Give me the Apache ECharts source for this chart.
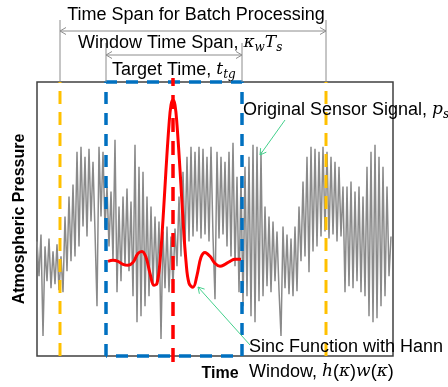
<!DOCTYPE html>
<html>
<head>
<meta charset="utf-8">
<script src="https://cdn.jsdelivr.net/npm/echarts@6/dist/echarts.min.js"></script>
<style>
  html, body { margin: 0; padding: 0; background: #fff; }
  #chart { width: 448px; height: 387px; }
</style>
</head>
<body>
<div id="chart"></div>
<script>
  // sensor signal, one sample every signalStep time units
  var signalStep = 2
  var signal = [
    115, 80, 122, 20, 110, 75, 118, 68, 105, 72, 112, 66, 100,
    64, 140, 85, 160, 95, 172, 100,
    205, 110, 210, 130, 200, 120, 208, 135, 195, 125, 50, 210, 140, 205, 128,
    170, 110, 165, 95, 217, 64, 150, 75, 160, 90, 168, 85, 155,
    60, 212, 34, 190, 40, 185, 50, 160, 60, 150, 70, 140, 72, 135, 17,
    125, 68, 130, 64, 120, 70, 128,
    90, 160, 100, 185, 110, 200, 115, 210, 120, 205, 125, 210, 118, 208, 122, 200, 115, 210,
    120, 57, 205, 118, 200, 122, 195, 110, 205, 100, 214, 90, 180, 64,
    180, 50, 190, 60, 200, 40, 212, 34, 210, 55, 205,
    60, 150, 70, 140, 64, 135, 75, 125, 66, 20, 130, 68, 122, 62, 118,
    60, 130, 65, 150,
    95, 175, 100, 200, 84, 210, 105, 208, 110, 205,
    120, 210, 125, 205, 118, 200, 122, 195, 115, 190, 120, 170, 64,
    170, 70, 175, 68, 165, 75, 170, 64, 160,
    60, 190, 40, 205, 34, 212, 38, 200, 50, 190, 60, 170, 80, 120
  ]

  // windowed sinc h(k)w(k)
  var sincTime = [71, 76, 81, 86, 91, 96, 101, 105, 109, 113, 117, 120, 123, 126, 129, 132, 134, 136,
    138, 140, 143, 146, 149, 152, 156, 160, 164, 168, 173, 178, 183, 188, 193, 198, 204]
  var sincValue = [95, 96, 95, 92, 91, 94, 103, 105, 99, 83, 71, 73, 95, 137, 187, 232, 252, 257,
    252, 232, 187, 137, 95, 73, 69, 81, 99, 104, 100, 93, 90, 92, 95, 97, 97]

  var batchSpan = [23, 289]
  var windowSpan = [69, 205]
  var targetTime = 136
  var timeMax = 356
  var pressureMax = 275

  var myChart = echarts.init(document.getElementById('chart'))
  var font = 'Liberation Sans'

  var signalData = signal.map(function (v, i) { return [i * signalStep, v] })
  var sincData = sincTime.map(function (t, i) { return [t, sincValue[i]] })

  function vline(t, lo, hi) { return [[t, lo], [t, hi]] }

  myChart.setOption({
    animation: false,
    grid: {
      left: 37, top: 82, width: 356, height: 275,
      show: true, borderColor: '#404040', borderWidth: 1.5
    },
    xAxis: {
      type: 'value', min: 0, max: timeMax,
      name: 'Time', nameLocation: 'middle', nameGap: 10,
      nameTextStyle: { fontFamily: font, fontSize: 16, fontWeight: 'bold', color: '#000', padding: [0, 0, 0, 10] },
      axisLine: { show: false }, axisTick: { show: false }, axisLabel: { show: false }, splitLine: { show: false }
    },
    yAxis: {
      type: 'value', min: 0, max: pressureMax,
      name: 'Atmospheric Pressure', nameLocation: 'middle', nameGap: 9,
      nameTextStyle: { fontFamily: font, fontSize: 16, fontWeight: 'bold', color: '#000' },
      axisLine: { show: false }, axisTick: { show: false }, axisLabel: { show: false }, splitLine: { show: false }
    },
    series: [
      {
        type: 'line', data: signalData, symbol: 'none',
        lineStyle: { color: '#8a8a8a', width: 1.5 }
      },
      {
        type: 'line', data: vline(batchSpan[0], 0, pressureMax), symbol: 'none',
        lineStyle: { color: '#FFC000', width: 3, type: [13, 8] }
      },
      {
        type: 'line', data: vline(batchSpan[1], 0, pressureMax), symbol: 'none',
        lineStyle: { color: '#FFC000', width: 3, type: [13, 8] }
      },
      {
        type: 'line', symbol: 'none', clip: false,
        data: [[windowSpan[0], 0], [windowSpan[0], pressureMax], [windowSpan[1], pressureMax],
          [windowSpan[1], 0], [windowSpan[0], 0]],
        lineStyle: { color: '#0070C0', width: 3.5, type: [12, 9] }
      },
      {
        type: 'line', data: sincData, symbol: 'none', smooth: 0.4,
        lineStyle: { color: '#FF0000', width: 3 }
      },
      {
        type: 'line', data: vline(targetTime, -6, pressureMax + 4), symbol: 'none', clip: false,
        lineStyle: { color: '#FF0000', width: 3.5, type: [14, 9] }
      }
    ]
  })

  // annotations
  var grey = '#8c8c8c'
  var green = '#44d08c'
  function px(t) { return myChart.convertToPixel({ gridIndex: 0 }, [t, 0])[0] }

  function seg(x1, y1, x2, y2, color) {
    return { type: 'line', shape: { x1: x1, y1: y1, x2: x2, y2: y2 }, style: { stroke: color, lineWidth: 1 }, z: 10 }
  }
  function head(x, y, dx, dy, color) {
    var len = Math.sqrt(dx * dx + dy * dy), ux = dx / len, uy = dy / len, s = 6, w = 3.5
    return {
      type: 'polyline', z: 10,
      shape: { points: [[x - ux * s - uy * w, y - uy * s + ux * w], [x, y], [x - ux * s + uy * w, y - uy * s - ux * w]] },
      style: { stroke: color, lineWidth: 1, fill: null }
    }
  }
  function span(xa, xb, y, top) {
    return [
      seg(xa, top, xa, 82, grey), seg(xb, top, xb, 82, grey),
      seg(xa, y, xb, y, grey), head(xa, y, -1, 0, grey), head(xb, y, 1, 0, grey)
    ]
  }
  function leader(x1, y1, x2, y2) {
    return [seg(x1, y1, x2, y2, green), head(x2, y2, x2 - x1, y2 - y1, green)]
  }
  function label(x, y, text, align) {
    return {
      type: 'text', x: x, y: y, z: 11,
      style: {
        text: text, fill: '#000', font: '18px ' + font, align: align || 'left', verticalAlign: 'middle',
        rich: {
          m: { fontFamily: 'DejaVu Serif', fontStyle: 'italic', fontSize: 17, lineHeight: 22 },
          s: { fontFamily: 'DejaVu Serif', fontStyle: 'italic', fontSize: 12, verticalAlign: 'bottom', lineHeight: 12 },
          n: { fontFamily: font, fontSize: 18, lineHeight: 22 }
        }
      }
    }
  }

  var b0 = px(batchSpan[0]), b1 = px(batchSpan[1]), w0 = px(windowSpan[0]), w1 = px(windowSpan[1])
  var elems = []
    .concat(span(b0, b1, 31, 20))
    .concat(span(w0, w1, 55, 43))
    .concat(leader(285, 120, 260, 155))
    .concat(leader(250, 345, 198, 287))
  elems.push(label(196, 15, 'Time Span for Batch Processing', 'center'))
  elems.push(label(78, 43, '{n|Window Time Span, }{m|κ}{s|w}{m|T}{s|s}'))
  elems.push(label(112, 70, '{n|Target Time, }{m|t}{s|tg}'))
  elems.push(label(243, 110, '{n|Original Sensor Signal, }{m|p}{s|s}'))
  elems.push(label(249, 347, 'Sinc Function with Hann'))
  elems.push(label(249, 372, '{n|Window, }{m|h}{n|(}{m|κ}{n|)}{m|w}{n|(}{m|κ}{n|)}'))

  myChart.setOption({ graphic: { elements: elems } })
</script>
</body>
</html>
